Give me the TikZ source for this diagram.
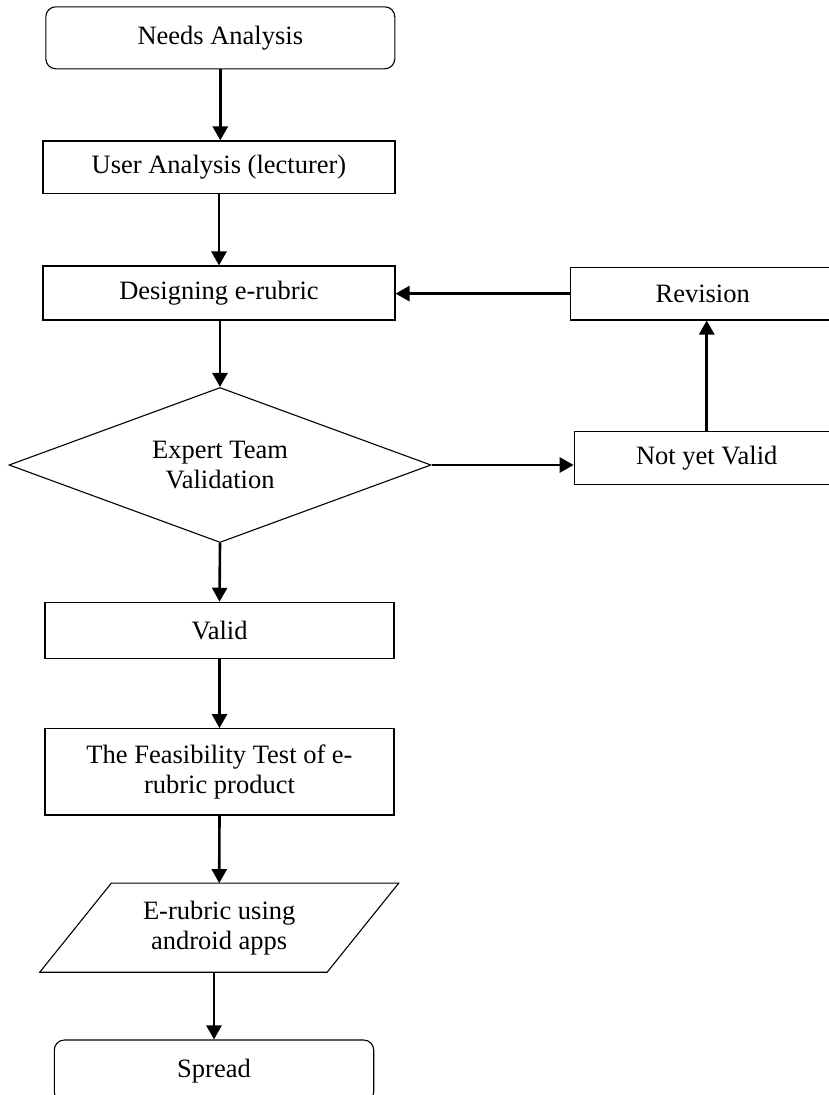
\documentclass[tikz,border=0pt]{standalone}
\usepackage{fontspec}
\setmainfont{Liberation Serif}
\usetikzlibrary{shapes.geometric,arrows.meta}
\begin{document}
\begin{tikzpicture}[x=1pt,y=-1pt,
  every node/.style={font=\fontsize{26.5}{30}\selectfont, align=center, inner sep=0pt},
  boxstyle/.style={draw, line width=1.1pt, rectangle},
  termstyle/.style={draw, line width=1.1pt, rectangle, rounded corners=10pt},
  decstyle/.style={draw, line width=1.1pt, diamond, aspect=2.72, minimum width=422pt, minimum height=155pt},
  flow/.style={line width=2.6pt, -{Triangle[width=15pt,length=14pt]}}
]
\useasboundingbox (0,0) rectangle (828,1095);
\fill[white] (0,0) rectangle (828,1095);

\node[termstyle, minimum width=349pt, minimum height=62pt] (needs) at (220.3,37.8) {Needs Analysis};
\node[boxstyle, minimum width=352pt, minimum height=52.7pt] (user) at (219,167.3) {User Analysis (lecturer)};
\node[boxstyle, minimum width=352pt, minimum height=54pt] (design) at (219,293) {Designing e-rubric};
\node[decstyle] (expert) at (220,465) {Expert Team\\Validation};
\node[boxstyle, minimum width=265pt, minimum height=52.7pt] (revision) at (702.7,293.6) {Revision};
\node[boxstyle, minimum width=265pt, minimum height=53.3pt] (notyet) at (706.7,457.7) {Not yet Valid};
\node[boxstyle, minimum width=349pt, minimum height=56pt] (valid) at (219.5,630.3) {Valid};
\node[boxstyle, minimum width=349pt, minimum height=86.3pt] (feas) at (219.5,771.8) {The Feasibility Test of e-\\rubric product};
\node[minimum width=287pt, minimum height=88.7pt] (para) at (219.2,927.7) {E-rubric using\\android apps};
\draw[line width=1.1pt] ([xshift=35.8pt]para.north west) -- ([xshift=35.8pt]para.north east)
  -- ([xshift=-35.8pt]para.south east) -- ([xshift=-35.8pt]para.south west) -- cycle;
\node[termstyle, minimum width=319.4pt, minimum height=62pt] (spread) at (214,1071) {Spread};

\draw[flow] (needs.south) -- (needs.south |- user.north);
\draw[flow] (user.south) -- (design.north);
\draw[flow] (expert.north |- design.south) -- (expert.north);
\draw[flow] (expert.east) -- (notyet.west |- expert.east);
\draw[flow] (notyet.north) -- (notyet.north |- revision.south);
\draw[flow] (revision.west) -- (design.east |- revision.west);
\draw[flow] (expert.south) -- (valid.north);
\draw[flow] (valid.south) -- (feas.north);
\draw[flow] (feas.south) -- (para.north);
\draw[flow] (spread.north |- para.south) -- (spread.north);
\end{tikzpicture}
\end{document}
